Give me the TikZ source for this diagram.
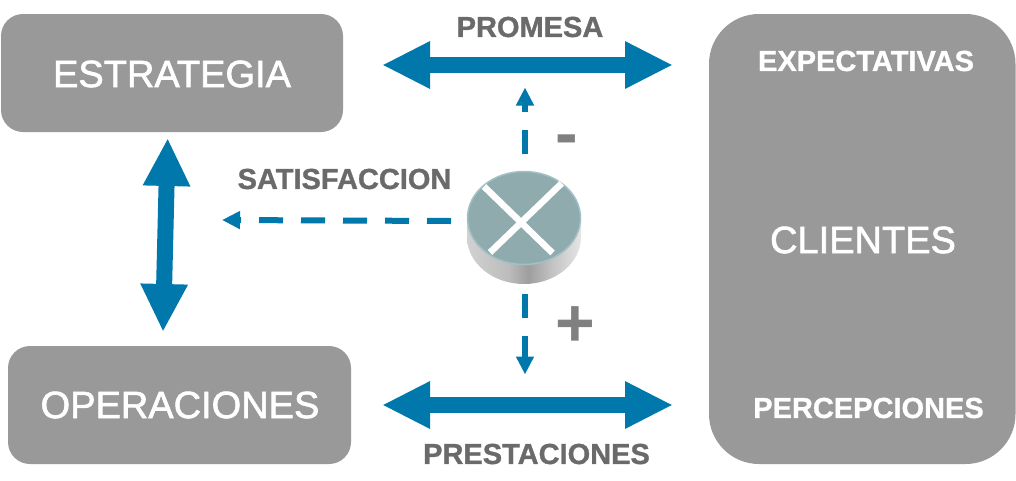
\documentclass[tikz,border=0pt]{standalone}
\usepackage{fontspec}
\setmainfont{Liberation Sans}
\newfontfamily\panelfont[FakeBold=1.6]{Liberation Sans}
\newfontfamily\labelfont[FakeBold=1.0]{Liberation Sans Bold}
\usetikzlibrary{arrows.meta}
\definecolor{boxgray}{HTML}{999999}
\definecolor{flow}{HTML}{0078AB}
\definecolor{labelgray}{HTML}{6A6A6A}
\definecolor{disc}{HTML}{90ABAE}
\definecolor{discedge}{HTML}{A3C0C4}
\pgfdeclarehorizontalshading{cylshade}{100bp}{color(0bp)=(black!18);color(25bp)=(black!18);color(43bp)=(black!26);color(52bp)=(black!38);color(62bp)=(black!24);color(75bp)=(black!10);color(100bp)=(black!10)}
\tikzset{
 x=1pt,y=-1pt,
 panel/.style={fill=boxgray,draw=none,rounded corners=#1,inner sep=0pt},
 bigflow/.style={draw=flow,line width=16pt,{Triangle[length=48pt,width=44pt]}-{Triangle[length=48pt,width=44pt]}},
 dashflow/.style={draw=flow,line width=6pt,dash pattern=on 24pt off 18pt,-{Triangle[length=18pt,width=17pt]}},
 paneltext/.style={text=white,font=\fontsize{38}{38}\panelfont,inner sep=0pt},
 sidetext/.style={text=white,font=\fontsize{29}{29}\labelfont,inner sep=0pt},
 flowtext/.style={text=labelgray,font=\fontsize{29}{29}\labelfont,inner sep=0pt},
 signtext/.style={text=black!50,font=\fontsize{68}{68}\selectfont\bfseries,inner sep=0pt},
 cross/.style={draw=white,line width=6.5pt},
}
\begin{document}
\begin{tikzpicture}
\useasboundingbox (0,0) rectangle (1016,480);
\fill[white] (0,0) rectangle (1016,480);
% panels
\node[panel=22pt,minimum width=342pt,minimum height=118pt] (estr) at (172,73) {};
\node[panel=22pt,minimum width=343pt,minimum height=118pt] (oper) at (179.5,405) {};
\fill[boxgray,rounded corners=50pt] (709,14) rectangle (1015.5,464);
\node[paneltext] (estrt) at (172,74) {ESTRATEGIA};
\node[paneltext] (opert) at (180,405) {OPERACIONES};
\node[paneltext] (cli) at (863,240) {CLIENTES};
\node[sidetext] (expe) at (866,61) {EXPECTATIVAS};
\node[sidetext] (perc) at (868.5,408) {PERCEPCIONES};
\node[flowtext] (prom) at (530,27) {PROMESA};
\node[flowtext] (sat) at (344.5,179) {SATISFACCION};
\node[flowtext] (pres) at (536.5,454) {PRESTACIONES};
\node[signtext] (minus) at (567,146) {-};
\node[signtext] (plus) at (575,327) {+};
% comparator
\coordinate (cyl) at (524,218);
\path[shading=cylshade] (467,218) -- (467,237) arc[start angle=180,end angle=360,x radius=57pt,y radius=47pt] -- (581,218) -- cycle;
\draw[fill=disc,draw=discedge,line width=1.5pt] (cyl) ellipse[x radius=56.5pt,y radius=46.5pt];
\coordinate (xa) at (484,186.5);\coordinate (xb) at (552.5,253);
\coordinate (xc) at (561.7,183.3);\coordinate (xd) at (490,252.5);
\draw[cross] (xa) -- (xb);
\draw[cross] (xc) -- (xd);
% big arrows
\coordinate (pl) at (382,65);\coordinate (pr) at (673,65);
\coordinate (ql) at (382,405);\coordinate (qr) at (673,405);
\coordinate (vt) at (167.7,138);\coordinate (vb) at (163,332);
\draw[bigflow] (pl) -- (pr);
\draw[bigflow] (ql) -- (qr);
\draw[bigflow] (vt) -- (vb);
% dashed arrows
\coordinate (up0) at (525,154);\coordinate (up1) at (525,87.5);
\coordinate (dn0) at (525,294);\coordinate (dn1) at (525,374.5);
\coordinate (lf0) at (451,221);\coordinate (lf1) at (222,220);
\draw[dashflow] (up0) -- (up1);
\draw[dashflow] (dn0) -- (dn1);
\draw[dashflow] (lf0) -- (lf1);
\end{tikzpicture}
\end{document}
